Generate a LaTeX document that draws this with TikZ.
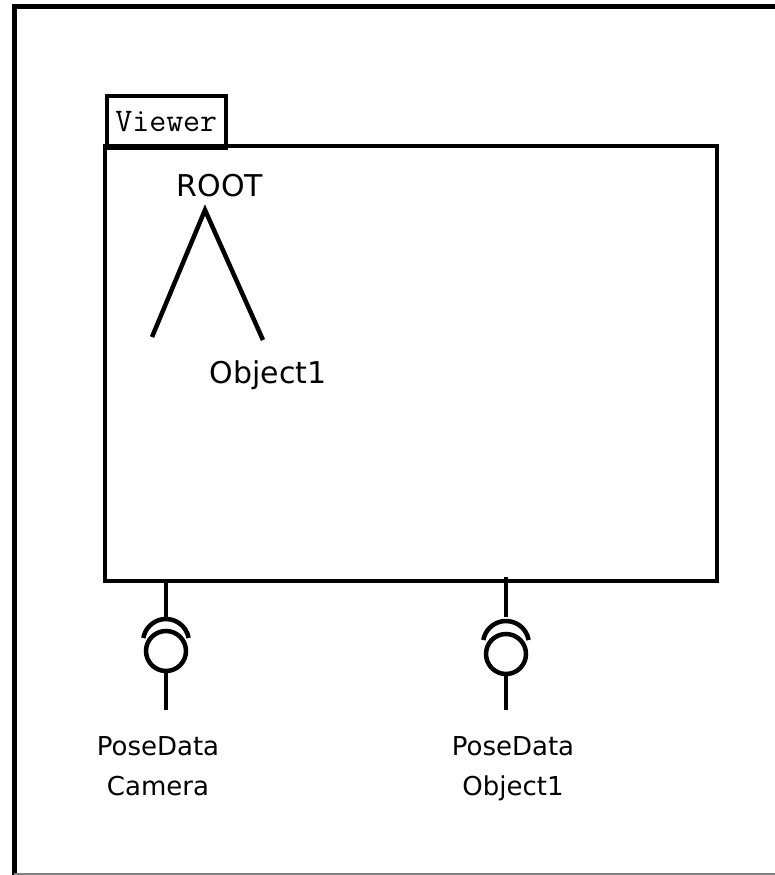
\documentclass[tikz,border=0pt]{standalone}
\usepackage{fontspec}
\setmainfont{DejaVu Sans}
\usetikzlibrary{positioning}

\tikzset{thick line/.style={draw=black,line width=4.5pt}}
\tikzset{label text/.style={font=\fontsize{26}{40}\selectfont,align=center,inner sep=0pt}}
\tikzset{tree text/.style={font=\fontsize{30}{36}\selectfont,inner sep=0pt}}
\tikzset{ball/.style={circle,draw=black,line width=4.5pt,minimum size=40pt,inner sep=0pt}}

\begin{document}
\begin{tikzpicture}[x=1pt,y=-1pt]
    \useasboundingbox (0,0) rectangle (775,875);
    % page frame
    \draw[line width=5pt] (775,7) -- (14,7) -- (14,875);
    \draw[gray,line width=1.5pt] (14,874) -- (775,874);
    % viewer component
    \node[draw,line width=3.5pt,minimum width=119pt,minimum height=52pt,anchor=north west,
          font=\ttfamily\fontsize{33}{34}\selectfont,inner sep=0pt] (tab) at (105,94) {Viewer};
    \draw[thick line] (105,146) rectangle (717,581);
    % scene tree
    \node[tree text] (root) at (220,186) {ROOT};
    \coordinate (apex) at (205,210);
    \coordinate (leftleaf) at (152,337);
    \coordinate (rightleaf) at (263,340);
    \node[tree text] (obj) at (268,375) {Object1};
    \draw[thick line] (leftleaf) -- (apex) -- (rightleaf);
    % required pose ports
    \coordinate (camtop) at (166,581);
    \coordinate (objtop) at (506,577);
    \node[ball] (camball) at (166,651) {};
    \node[ball] (objball) at (506,654) {};
    \coordinate (camend) at (166,710);
    \coordinate (objend) at (506,710);
    \draw[thick line] (camtop) -- ++(0,36);
    \draw[thick line] (objtop) -- ++(0,40);
    \draw[thick line] ([shift={(10:23)}]166,634) arc[start angle=-10,end angle=-170,radius=23];
    \draw[thick line] ([shift={(10:23)}]506,636) arc[start angle=-10,end angle=-170,radius=23];
    \draw[thick line] (camball) -- (camend);
    \draw[thick line] (objball) -- (objend);
    \node[label text] (camlabel) at (158,766) {PoseData\\Camera};
    \node[label text] (objlabel) at (513,769) {PoseData\\Object1};
\end{tikzpicture}
\end{document}
